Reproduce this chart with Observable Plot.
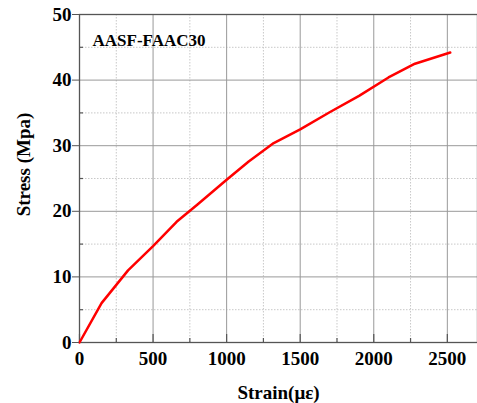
<!DOCTYPE html>
<html>
<head>
<meta charset="utf-8">
<script src="https://cdn.jsdelivr.net/npm/d3@7"></script>
<script src="https://cdn.jsdelivr.net/npm/@observablehq/plot@0.6"></script>
<style>
  html, body { margin: 0; padding: 0; background: #fff; }
</style>
</head>
<body>
<div id="chart"></div>
<script>
const strain = [0, 150, 330, 500, 660, 800, 1000, 1150, 1320, 1500, 1700, 1900, 2100, 2280, 2520];
const stress = [0, 6.0, 11.0, 14.7, 18.4, 21.0, 24.8, 27.6, 30.4, 32.5, 35.1, 37.6, 40.4, 42.5, 44.2];
const xTicks = [0, 500, 1000, 1500, 2000, 2500];
const xMinor = [250, 750, 1250, 1750, 2250];
const yTicks = [0, 10, 20, 30, 40, 50];
const yMinor = [5, 15, 25, 35, 45];
const sampleName = "AASF-FAAC30";
const xLabel = "Strain(με)";
const yLabel = "Stress (Mpa)";

const data = strain.map((s, i) => ({strain: s, stress: stress[i]}));

const W = 477, H = 403;
const mL = 79, mT = 14, mR = 0, mB = 61;
const innerH = H - mT - mB;
const innerW = W - mL - mR;
const font = "'Liberation Serif', 'Times New Roman', serif";

const chart = Plot.plot({
  width: W,
  height: H,
  marginLeft: mL,
  marginTop: mT,
  marginRight: mR,
  marginBottom: mB,
  style: {fontFamily: font, fontWeight: "bold", fontSize: "19px", color: "#000", background: "#fff"},
  x: {domain: [0, 2705]},
  y: {domain: [0, 50]},
  marks: [
    Plot.ruleX(xMinor, {x: d => d, stroke: "#c8c8c8", strokeDasharray: "1.5,1.5", strokeWidth: 1}),
    Plot.ruleY(yMinor, {y: d => d, stroke: "#c8c8c8", strokeDasharray: "1.5,1.5", strokeWidth: 1}),
    Plot.ruleX(xTicks.slice(1), {x: d => d, stroke: "#999", strokeWidth: 1}),
    Plot.ruleY(yTicks.slice(1), {y: d => d, stroke: "#999", strokeWidth: 1}),
    Plot.ruleX(xTicks, {x: d => d, insetTop: innerH - 8, stroke: "#555", strokeWidth: 1.2}),
    Plot.ruleX(xMinor, {x: d => d, insetTop: innerH - 4, stroke: "#555", strokeWidth: 1.2}),
    Plot.ruleY(yMinor, {y: d => d, insetRight: innerW - 4, stroke: "#555", strokeWidth: 1.2}),
    Plot.frame({stroke: "#555", strokeWidth: 1.3}),
    Plot.line(data, {x: "strain", y: "stress", stroke: "#ff0000", strokeWidth: 2.5, strokeLinejoin: "round"}),
    Plot.axisX(xTicks, {tickSize: 0, tickPadding: 9, tickFormat: d3.format("d"), label: null, fontSize: 19, fontWeight: "bold"}),
    Plot.axisY(yTicks, {tickSize: 7, tickPadding: 1, tickFormat: d3.format("d"), label: null, fontSize: 19, fontWeight: "bold", stroke: "#555"}),
    Plot.text([xLabel], {frameAnchor: "bottom", dy: 50, fontSize: 19, fontWeight: "bold", lineAnchor: "middle"}),
    Plot.text([yLabel], {frameAnchor: "left", dx: -56, dy: -14, rotate: -90, textAnchor: "middle", fontSize: 19, fontWeight: "bold"}),
    Plot.text([sampleName], {frameAnchor: "top-left", dx: 13, dy: 19, textAnchor: "start", fontSize: 17, fontWeight: "bold"})
  ]
});
document.getElementById("chart").appendChild(chart);
</script>
</body>
</html>
